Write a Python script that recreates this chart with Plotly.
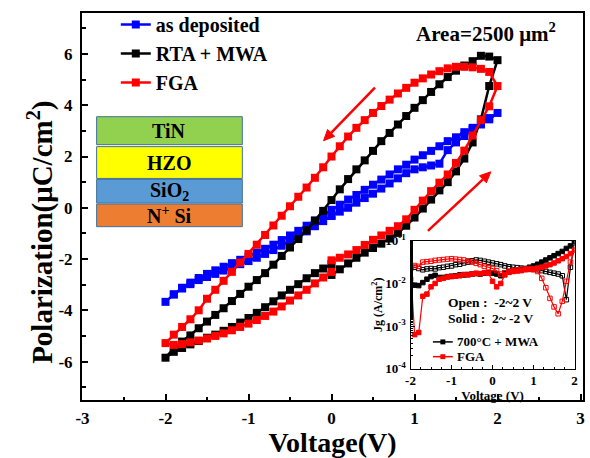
import plotly.graph_objects as go

# ---------------- main P-V loops ----------------
# voltage sweep: 0 -> +2 -> -2 -> 0 (V)
V_SWEEP = [0.0, 0.1, 0.2, 0.3, 0.4, 0.5, 0.6, 0.7, 0.8, 0.9, 1.0, 1.1, 1.2, 1.3, 1.4, 1.5, 1.6, 1.7, 1.8, 1.9, 2.0,
           1.9, 1.8, 1.7, 1.6, 1.5, 1.4, 1.3, 1.2, 1.1, 1.0, 0.9, 0.8, 0.7, 0.6, 0.5, 0.4, 0.3, 0.2, 0.1, 0.0,
           -0.1, -0.2, -0.3, -0.4, -0.5, -0.6, -0.7, -0.8, -0.9, -1.0, -1.1, -1.2, -1.3, -1.4, -1.5, -1.6, -1.7, -1.8, -1.9, -2.0,
           -1.9, -1.8, -1.7, -1.6, -1.5, -1.4, -1.3, -1.2, -1.1, -1.0, -0.9, -0.8, -0.7, -0.6, -0.5, -0.4, -0.3, -0.2, -0.1, 0.0]

P_AS_DEPOSITED = [-0.3, -0.15, 0.0, 0.2, 0.38, 0.55, 0.75, 0.95, 1.15, 1.35, 1.5, 1.58, 1.65, 1.72, 2.25, 2.55, 2.8, 3.05, 3.25, 3.45, 3.7,
                  3.5, 3.3, 3.12, 2.95, 2.75, 2.6, 2.4, 2.22, 2.05, 1.88, 1.68, 1.5, 1.3, 1.1, 0.9, 0.7, 0.5, 0.32, 0.12, -0.08,
                  -0.3, -0.5, -0.7, -0.9, -1.08, -1.26, -1.44, -1.6, -1.75, -1.9, -2.03, -2.16, -2.3, -2.44, -2.58, -2.74, -2.92, -3.12, -3.38, -3.67,
                  -3.38, -3.15, -2.98, -2.82, -2.7, -2.58, -2.45, -2.32, -2.2, -2.08, -1.95, -1.8, -1.65, -1.48, -1.3, -1.12, -0.92, -0.72, -0.52, -0.32]

P_RTA_MWA = [-2.62, -2.4, -2.17, -1.95, -1.75, -1.57, -1.4, -1.2, -0.98, -0.7, -0.38, -0.03, 0.32, 0.68, 1.0, 1.42, 1.92, 2.55, 3.45, 4.75, 5.76,
             5.9, 5.93, 5.72, 5.55, 5.35, 5.1, 4.82, 4.52, 4.2, 3.9, 3.58, 3.25, 2.92, 2.6, 2.22, 1.85, 1.5, 1.12, 0.72, 0.3,
             -0.12, -0.5, -0.88, -1.22, -1.55, -1.88, -2.22, -2.55, -2.82, -3.08, -3.36, -3.64, -3.92, -4.18, -4.44, -4.7, -4.98, -5.22, -5.48, -5.85,
             -5.62, -5.47, -5.33, -5.2, -5.07, -4.95, -4.8, -4.65, -4.48, -4.3, -4.1, -3.88, -3.65, -3.42, -3.2, -2.98, -2.75, -2.55, -2.37, -2.2]

P_FGA = [-2.05, -1.95, -1.82, -1.65, -1.45, -1.25, -1.08, -0.9, -0.72, -0.45, -0.08, 0.28, 0.65, 0.98, 1.3, 1.75, 2.23, 2.82, 3.42, 3.96, 4.75,
         5.3, 5.42, 5.48, 5.5, 5.5, 5.44, 5.33, 5.2, 5.05, 4.88, 4.68, 4.46, 4.22, 3.97, 3.7, 3.42, 3.12, 2.78, 2.4, 2.0,
         1.58, 1.17, 0.79, 0.43, 0.06, -0.31, -0.69, -1.06, -1.44, -1.8, -2.14, -2.5, -2.85, -3.2, -3.55, -4.0, -4.35, -4.65, -4.95, -5.28,
         -5.35, -5.32, -5.25, -5.18, -5.1, -5.0, -4.9, -4.78, -4.65, -4.52, -4.38, -4.22, -4.05, -3.85, -3.62, -3.42, -3.2, -2.95, -2.72, -2.5]

SERIES_NAMES = ["as deposited", "RTA + MWA", "FGA"]

X_TICKS = [-3, -2, -1, 0, 1, 2, 3]
X_TICKTEXT = ["-3", "-2", "-1", "0", "1", "2", "3"]
Y_TICKS = [-6, -4, -2, 0, 2, 4, 6]
Y_TICKTEXT = ["-6", "-4", "-2", "0", "2", "4", "6"]

# ---------------- inset: leakage current ----------------
V_INSET = [-2.0, -1.9, -1.8, -1.7, -1.6, -1.5, -1.4, -1.3, -1.2, -1.1, -1.0, -0.9, -0.8, -0.7, -0.6, -0.5, -0.4, -0.3, -0.2, -0.1,
           0.0, 0.1, 0.2, 0.3, 0.4, 0.5, 0.6, 0.7, 0.8, 0.9, 1.0, 1.1, 1.2, 1.3, 1.4, 1.5, 1.6, 1.7, 1.8, 1.9, 2.0]
# log10 of Jg (A/cm^2)
LOGJ_MWA_OPEN = [-1.65, -1.62, -1.65, -1.68, -1.66, -1.65, -1.66, -1.63, -1.62, -1.6, -1.59, -1.56, -1.55, -1.52, -1.5, -1.47, -1.45, -1.46, -1.48, -1.5,
                 -1.52, -1.54, -1.56, -1.59, -1.61, -1.62, -1.63, -1.64, -1.66, -1.67, -1.66, -1.68, -1.7, -1.72, -1.74, -1.76, -1.78, -1.82, -2.38, -1.62, -1.05]
LOGJ_MWA_SOLID = [-1.9, -2.04, -2.05, -1.98, -1.9, -1.84, -1.81, -1.86, -1.86, -1.84, -1.83, -1.82, -1.8, -1.8, -1.79, -1.78, -1.77, -1.78, -1.76, -1.75,
                  -1.76, -1.78, -1.82, -1.75, -1.73, -1.71, -1.69, -1.67, -1.65, -1.62, -1.59, -1.55, -1.5, -1.45, -1.4, -1.35, -1.3, -1.25, -1.18, -1.12, -1.02]
LOGJ_FGA_OPEN = [-1.62, -1.58, -1.6, -1.5, -1.49, -1.48, -1.46, -1.45, -1.44, -1.43, -1.42, -1.43, -1.44, -1.45, -1.47, -1.5, -1.53, -1.56, -1.6, -1.63,
                 -1.65, -1.7, -1.78, -1.75, -1.72, -1.7, -1.68, -1.67, -1.66, -1.65, -1.68, -1.72, -1.88, -2.1, -2.35, -2.55, -2.71, -2.42, -1.95, -1.5, -1.22]
LOGJ_FGA_SOLID = [-1.65, -3.2, -3.15, -2.3, -2.25, -2.08, -2.0, -1.9, -1.88, -1.85, -1.84, -1.83, -1.82, -1.79, -1.8, -1.78, -1.76, -1.77, -1.75, -1.76,
                  -1.95, -2.08, -2.0, -1.8, -1.74, -1.72, -1.71, -1.7, -1.68, -1.67, -1.66, -1.64, -1.62, -1.59, -1.56, -1.52, -1.47, -1.42, -1.37, -1.3, -1.22]
INSET_NAMES = ["700°C + MWA", "FGA"]
INSET_X_TICKS = [-2, -1, 0, 1, 2]
INSET_X_TICKTEXT = ["-2", "-1", "0", "1", "2"]
INSET_Y_TICKS = [1e-4, 1e-3, 1e-2, 1e-1]
INSET_Y_TICKTEXT = ["10<sup>-4</sup>", "10<sup>-3</sup>", "10<sup>-2</sup>", "10<sup>-1</sup>"]

# ---------------- layout geometry (pixels) ----------------
W, H = 590, 458
ML, MR, MT, MB = 82, 4, 7, 58
PW, PH = W - ML - MR, H - MT - MB


def px_x(px):
    return (px - ML) / PW


def px_y(py):
    return (H - MB - py) / PH


FONT = "Liberation Serif"
BLUE, BLACK, RED = "#0000FF", "#000000", "#FF0000"
bold = dict(family=FONT, weight="bold", color="black")

fig = go.Figure()

for name, p, col in zip(SERIES_NAMES, [P_AS_DEPOSITED, P_RTA_MWA, P_FGA], [BLUE, BLACK, RED]):
    fig.add_trace(go.Scatter(
        x=V_SWEEP, y=p, name=name, mode="lines+markers",
        line=dict(color=col, width=2.5),
        marker=dict(symbol="square", size=8, color=col),
        xaxis="x", yaxis="y",
    ))

# inset traces (legend for them is drawn inside the inset below)
inset_sets = [
    (LOGJ_MWA_OPEN, BLACK, "square-open", INSET_NAMES[0]),
    (LOGJ_MWA_SOLID, BLACK, "square", INSET_NAMES[0]),
    (LOGJ_FGA_OPEN, RED, "square-open", INSET_NAMES[1]),
    (LOGJ_FGA_SOLID, RED, "square", INSET_NAMES[1]),
]
for logj, col, sym, name in inset_sets:
    fig.add_trace(go.Scatter(
        x=V_INSET, y=[10 ** v for v in logj], name=name, mode="lines+markers",
        line=dict(color=col, width=1.2),
        marker=dict(symbol=sym, size=4.5, color=col, line=dict(color=col, width=1)),
        xaxis="x2", yaxis="y2", showlegend=False,
    ))

# inset domain
ix0, ix1 = px_x(412.5), px_x(577.5)
iy0, iy1 = px_y(368.3), px_y(238.3)

fig.update_layout(
    width=W, height=H,
    margin=dict(l=ML, r=MR, t=MT, b=MB),
    paper_bgcolor="white", plot_bgcolor="white",
    xaxis=dict(
        domain=[0, 1], range=[-3.006, 3.03],
        tickvals=X_TICKS, ticktext=X_TICKTEXT,
        ticks="inside", ticklen=6, tickwidth=2, tickcolor="black",
        minor=dict(dtick=0.5, tick0=0, ticks="inside", ticklen=3.5, tickwidth=1.5, tickcolor="black"),
        showline=True, linewidth=2, linecolor="black", mirror=True,
        showgrid=False, zeroline=False,
        tickfont=dict(size=17, **bold), ticklabelstandoff=2,
        title=dict(text="Voltage(V)", font=dict(size=28, **bold), standoff=0),
    ),
    yaxis=dict(
        domain=[0, 1], range=[-7.5, 7.6],
        tickvals=Y_TICKS, ticktext=Y_TICKTEXT,
        ticks="inside", ticklen=6, tickwidth=2, tickcolor="black",
        minor=dict(dtick=1, tick0=0, ticks="inside", ticklen=3.5, tickwidth=1.5, tickcolor="black"),
        showline=True, linewidth=2, linecolor="black", mirror=True,
        showgrid=False, zeroline=False,
        tickfont=dict(size=17, **bold), ticklabelstandoff=4,
    ),
    xaxis2=dict(
        domain=[ix0, ix1], anchor="y2", range=[-2, 2],
        tickvals=INSET_X_TICKS, ticktext=INSET_X_TICKTEXT,
        ticks="inside", ticklen=4, tickwidth=1, tickcolor="black",
        minor=dict(dtick=0.25, tick0=0, ticks="inside", ticklen=2, tickwidth=1, tickcolor="black"),
        showline=True, linewidth=1.2, linecolor="black", mirror=True,
        showgrid=False, zeroline=False,
        tickfont=dict(size=13, **bold), ticklabelstandoff=0,
        title=dict(text="Voltage (V)", font=dict(size=13, **bold), standoff=0),
    ),
    yaxis2=dict(
        domain=[iy0, iy1], anchor="x2", type="log", range=[-4, -1],
        tickvals=INSET_Y_TICKS, ticktext=INSET_Y_TICKTEXT,
        ticks="inside", ticklen=4, tickwidth=1, tickcolor="black",
        minor=dict(ticks="inside", ticklen=2, tickwidth=1, tickcolor="black"),
        showline=True, linewidth=1.2, linecolor="black", mirror=True,
        showgrid=False, zeroline=False,
        tickfont=dict(size=13, **bold), ticklabelstandoff=1,
        title=dict(text="Jg (A/cm<sup>2</sup>)", font=dict(size=12, **bold), standoff=0),
    ),
    legend=dict(
        x=px_x(116), y=px_y(-1), xanchor="left", yanchor="top",
        bgcolor="rgba(0,0,0,0)", font=dict(size=20, **bold),
        tracegroupgap=0, itemwidth=30,
    ),
    showlegend=True,
)

# y-axis title (placed as rotated text like the reference)
fig.add_annotation(xref="paper", yref="paper", x=px_x(40), y=px_y(230),
                   text="Polarization(μC/cm<sup>2</sup>)", textangle=-90, showarrow=False,
                   font=dict(size=29, **bold), xanchor="center", yanchor="middle")

# ---------- device stack schematic ----------
stack = [
    ("TiN", "#92D050", 112.3, 140.7),
    ("HZO", "#FFFF00", 142.7, 175.0),
    ("SiO<sub>2</sub>", "#5B9BD5", 176.0, 200.0),
    ("N<sup>+</sup> Si", "#ED7D31", 201.0, 224.0),
]
for label, colr, top, bot in stack:
    fig.add_shape(type="rect", xref="paper", yref="paper",
                  x0=px_x(96.7), x1=px_x(243.3), y0=px_y(bot), y1=px_y(top),
                  fillcolor=colr, line=dict(color="#41719C", width=1), layer="above")
    fig.add_annotation(xref="paper", yref="paper", x=px_x(170), y=px_y((top + bot) / 2),
                       text=label, showarrow=False, font=dict(size=20, **bold),
                       xanchor="center", yanchor="middle")

# area label
fig.add_annotation(xref="paper", yref="paper", x=px_x(488), y=px_y(27),
                   text="Area=2500 μm<sup>2</sup>", showarrow=False,
                   font=dict(size=21, **bold), xanchor="center", yanchor="middle")


# sweep-direction arrows (line + filled head)
def arrow(tx, ty, hx, hy):
    dx, dy = hx - tx, hy - ty
    L = (dx * dx + dy * dy) ** 0.5
    ux, uy = dx / L, dy / L
    hl, hw = 11.0, 5.0
    bx, by = hx - ux * hl, hy - uy * hl
    fig.add_shape(type="line", xref="paper", yref="paper",
                  x0=px_x(tx), y0=px_y(ty), x1=px_x(bx), y1=px_y(by),
                  line=dict(color=RED, width=2.5), layer="above")
    p1 = (bx - uy * hw, by + ux * hw)
    p2 = (bx + uy * hw, by - ux * hw)
    path = "M {:.4f} {:.4f} L {:.4f} {:.4f} L {:.4f} {:.4f} Z".format(
        px_x(hx), px_y(hy), px_x(p1[0]), px_y(p1[1]), px_x(p2[0]), px_y(p2[1]))
    fig.add_shape(type="path", xref="paper", yref="paper", path=path,
                  fillcolor=RED, line=dict(color=RED, width=1), layer="above")


arrow(376.7, 82.7, 325.0, 136.7)
arrow(430.0, 228.3, 493.3, 168.3)

# inset notes
fig.add_annotation(xref="paper", yref="paper", x=px_x(448), y=px_y(301),
                   text="Open :  -2~2 V", showarrow=False, font=dict(size=13.5, **bold),
                   xanchor="left", yanchor="middle")
fig.add_annotation(xref="paper", yref="paper", x=px_x(448), y=px_y(317),
                   text="Solid :  2~ -2 V", showarrow=False, font=dict(size=13.5, **bold),
                   xanchor="left", yanchor="middle")

# inset legend (line + square marker + label)
for (name, col, ypx) in [(INSET_NAMES[0], BLACK, 341.0), (INSET_NAMES[1], RED, 356.0)]:
    fig.add_shape(type="line", xref="paper", yref="paper",
                  x0=px_x(435), x1=px_x(455), y0=px_y(ypx), y1=px_y(ypx),
                  line=dict(color=col, width=1.5), layer="above")
    fig.add_shape(type="rect", xref="paper", yref="paper",
                  x0=px_x(442.5), x1=px_x(447.5), y0=px_y(ypx + 2.5), y1=px_y(ypx - 2.5),
                  fillcolor=col, line=dict(color=col, width=0), layer="above")
    fig.add_annotation(xref="paper", yref="paper", x=px_x(457), y=px_y(ypx),
                       text=name, showarrow=False, font=dict(size=13, **bold),
                       xanchor="left", yanchor="middle")

fig.write_html("out.html")
